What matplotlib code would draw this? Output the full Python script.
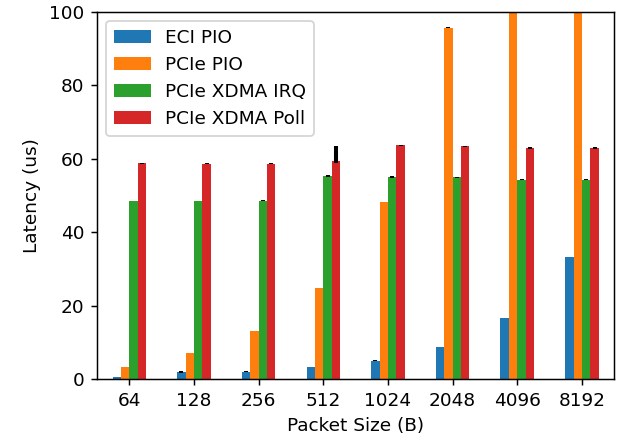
import numpy as np
import matplotlib
matplotlib.use("Agg")
import matplotlib.pyplot as plt

sizes = ["64", "128", "256", "512", "1024", "2048", "4096", "8192"]
labels = ["ECI PIO", "PCIe PIO", "PCIe XDMA IRQ", "PCIe XDMA Poll"]

eci_pio = [0.6, 1.8, 2.0, 3.3, 5.0, 8.8, 16.7, 33.3]
pcie_pio = [3.2, 7.0, 13.0, 24.7, 48.3, 95.8, 190.0, 380.0]
xdma_irq = [48.5, 48.5, 48.5, 55.2, 55.0, 55.0, 54.3, 54.3]
xdma_poll = [58.9, 58.7, 58.7, 59.4, 63.8, 63.5, 63.0, 63.0]

# lower / upper error per bar
eci_err = [[0.05] * 8, [0.05, 0.5, 0.05, 0.05, 0.05, 0.05, 0.05, 0.05]]
pio_err = [[0.03] * 8, [0.03] * 8]
irq_err = [[0.1] * 8, [0.1, 0.1, 0.2, 0.3, 0.2, 0.1, 0.2, 0.2]]
poll_err = [[0.2, 0.2, 0.2, 0.5, 0.2, 0.2, 0.2, 0.2],
            [0.1, 0.1, 0.1, 4.2, 0.1, 0.1, 0.1, 0.1]]

series = [eci_pio, pcie_pio, xdma_irq, xdma_poll]
errs = [eci_err, pio_err, irq_err, poll_err]
colors = ["#1f77b4", "#ff7f0e", "#2ca02c", "#d62728"]

s = 1.33
fig, ax = plt.subplots(figsize=(6.18 / s, 4.48 / s), dpi=100 * s)
x = np.arange(len(sizes))
w = 0.13
for i, (vals, e) in enumerate(zip(series, errs)):
    pos = x + (i - 1.5) * w
    ax.bar(pos, vals, w, color=colors[i], label=labels[i])
    ax.errorbar(pos, vals, yerr=e, fmt="none", ecolor="black", elinewidth=2.2, capsize=0)

ax.set_xticks(x)
ax.set_xticklabels(sizes)
ax.set_xlim(-0.5, 7.5)
ax.set_ylim(0, 100)
ax.set_xlabel("Packet Size (B)")
ax.set_ylabel("Latency (us)")
ax.legend(loc="upper left")
fig.subplots_adjust(left=0.157, right=0.994, top=0.973, bottom=0.154)
fig.savefig("out.png", dpi=100 * s)
